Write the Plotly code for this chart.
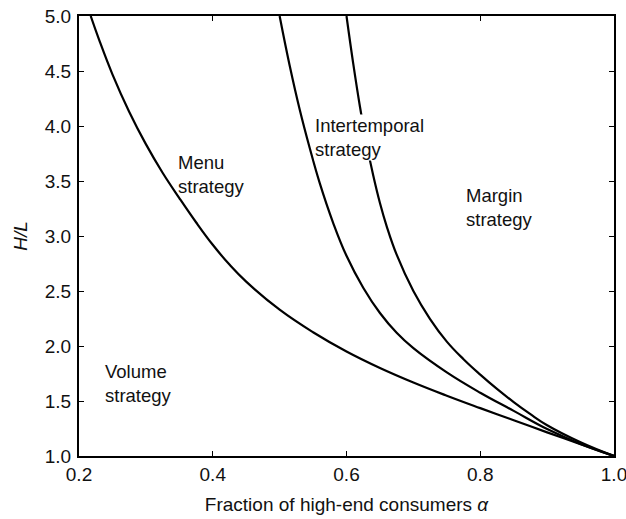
import plotly.graph_objects as go

# Boundary between volume and menu strategy
alpha_vm = [0.2175, 0.23, 0.25, 0.275, 0.30, 0.325, 0.35, 0.375, 0.40, 0.425, 0.45, 0.50,
            0.55, 0.60, 0.65, 0.70, 0.75, 0.80, 0.85, 0.90, 0.95, 1.00]
hl_vm = [5.0, 4.785, 4.47, 4.13, 3.835, 3.575, 3.345, 3.125, 2.92, 2.74, 2.585, 2.33,
         2.125, 1.95, 1.80, 1.668, 1.548, 1.435, 1.325, 1.215, 1.107, 1.0]

# Boundary between menu and intertemporal strategy
alpha_mi = [0.50, 0.515, 0.53, 0.545, 0.56, 0.58, 0.60, 0.625, 0.65, 0.675, 0.70, 0.75, 0.80, 0.85, 0.90, 0.95, 1.00]
hl_mi = [5.0, 4.55, 4.15, 3.80, 3.48, 3.12, 2.82, 2.53, 2.30, 2.12, 1.98, 1.76, 1.575, 1.41, 1.245, 1.11, 1.0]

# Boundary between intertemporal and margin strategy
alpha_im = [0.60, 0.61, 0.62, 0.63, 0.64, 0.65, 0.66, 0.675, 0.70, 0.725, 0.75, 0.775, 0.80, 0.825,
            0.85, 0.875, 0.90, 0.95, 1.00]
hl_im = [5.0, 4.57, 4.18, 3.84, 3.55, 3.30, 3.09, 2.83, 2.50, 2.245, 2.04, 1.88, 1.74, 1.61,
         1.49, 1.38, 1.28, 1.125, 1.0]

labels = ["Volume<br>strategy", "Menu<br>strategy", "Intertemporal<br>strategy", "Margin<br>strategy"]
label_x = [0.238, 0.3465, 0.5514, 0.777]
label_y = [1.66, 3.56, 3.90, 3.26]

x_ticks = [0.2, 0.4, 0.6, 0.8, 1.0]
y_ticks = [1.0, 1.5, 2.0, 2.5, 3.0, 3.5, 4.0, 4.5, 5.0]

FONT = "Liberation Sans, Arial, sans-serif"

fig = go.Figure()
for xs, ys in [(alpha_vm, hl_vm), (alpha_mi, hl_mi), (alpha_im, hl_im)]:
    fig.add_trace(go.Scatter(x=xs, y=ys, mode="lines",
                             line=dict(color="black", width=2.2, shape="spline", smoothing=1.2),
                             showlegend=False, hoverinfo="skip"))

for t, x, y in zip(labels, label_x, label_y):
    # only the intertemporal label sits on top of a curve, which it masks
    bg = "white" if t.startswith("Intertemporal") else "rgba(0,0,0,0)"
    fig.add_annotation(x=x, y=y, text=t, showarrow=False, xanchor="left", yanchor="middle",
                       align="left", bgcolor=bg, borderpad=0,
                       font=dict(family=FONT, size=18.5, color="#111"))

axis_common = dict(showgrid=False, zeroline=False, showline=True, linecolor="black", linewidth=2,
                   ticks="inside", ticklen=5, tickwidth=1.2, tickcolor="black", mirror="ticks",
                   automargin=False, ticklabeloverflow="allow",
                   tickfont=dict(family=FONT, size=19, color="#111"))

fig.update_xaxes(range=[0.2, 1.0], tickvals=x_ticks, ticktext=[f"{v:.1f}" for v in x_ticks],
                 title=dict(text="Fraction of high-end consumers <i>α</i>",
                            font=dict(family=FONT, size=19, color="#111"), standoff=14),
                 **axis_common)
fig.update_yaxes(range=[1.0, 5.0], tickvals=y_ticks, ticktext=[f"{v:.1f}" for v in y_ticks],
                 title=dict(text="<i>H/L</i>", font=dict(family=FONT, size=19, color="#111"), standoff=12),
                 ticklabelstandoff=2, **axis_common)

fig.update_layout(width=626, height=519, margin=dict(l=79, r=12, t=16, b=63),
                  plot_bgcolor="white", paper_bgcolor="white")

# remove the default page margin so the figure fills the window exactly
fig.write_html("out.html", config={"displayModeBar": False},
               post_script="document.body.style.margin='0';document.body.style.overflow='hidden';")
